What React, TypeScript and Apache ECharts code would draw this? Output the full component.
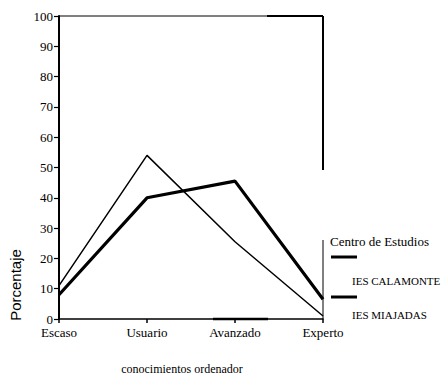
import React, { useEffect, useRef } from "react";
import * as echarts from "echarts";

const categories = ["Escaso", "Usuario", "Avanzado", "Experto"];
const calamonte = [8, 40, 45.5, 6.5];
const miajadas = [11, 54, 25.5, 1];
const yTicks = [0, 10, 20, 30, 40, 50, 60, 70, 80, 90, 100];
const seriesNames = ["IES CALAMONTE", "IES MIAJADAS"];
const legendTitle = "Centro de Estudios";
const xTitle = "conocimientos ordenador";
const yTitle = "Porcentaje";

const SERIF = "Times New Roman, Liberation Serif, serif";
const SANS = "Arial, Liberation Sans, sans-serif";

export default function App() {
  const ref = useRef<HTMLDivElement>(null);
  useEffect(() => {
    if (!ref.current) return;
    const chart = echarts.init(ref.current, null, { renderer: "svg" });
    const L = 59, T = 16, R = 323, B = 319;
    const txt = (text: string, x: number, y: number, size: number, family: string, align = "left", rotation = 0) => ({
      type: "text",
      x,
      y,
      rotation,
      style: {
        text,
        fill: "#000",
        fontSize: size,
        fontFamily: family,
        textAlign: align,
        textVerticalAlign: "middle",
      },
    });
    chart.setOption({
      animation: false,
      backgroundColor: "#ffffff",
      textStyle: { fontFamily: SERIF },
      grid: { left: L, top: T, right: 445 - R, bottom: 376 - B, show: false },
      xAxis: {
        type: "category",
        data: categories,
        boundaryGap: false,
        axisLine: { show: true, lineStyle: { color: "#000", width: 1.5 } },
        axisTick: { show: true, alignWithLabel: true, length: 4, inside: false, lineStyle: { color: "#000", width: 1.5 } },
        axisLabel: { color: "#000", fontFamily: SERIF, fontSize: 13, margin: 7 },
        splitLine: { show: false },
      },
      yAxis: {
        type: "value",
        min: 0,
        max: 100,
        interval: 10,
        axisLine: { show: true, lineStyle: { color: "#000", width: 2 } },
        axisTick: { show: true, length: 5, lineStyle: { color: "#000", width: 1.2 } },
        axisLabel: {
          color: "#000",
          fontFamily: SERIF,
          fontSize: 13,
          margin: 6,
          formatter: (v: number) => (yTicks.includes(v) ? String(v) : ""),
        },
        splitLine: { show: false },
      },
      series: [
        {
          name: seriesNames[0],
          type: "line",
          data: calamonte,
          symbol: "none",
          lineStyle: { color: "#000", width: 3.2 },
        },
        {
          name: seriesNames[1],
          type: "line",
          data: miajadas,
          symbol: "none",
          lineStyle: { color: "#000", width: 1.5 },
        },
      ],
      graphic: [
        { type: "line", shape: { x1: L, y1: T, x2: R, y2: T }, style: { stroke: "#000", lineWidth: 1 } },
        { type: "line", shape: { x1: 267, y1: T, x2: R, y2: T }, style: { stroke: "#000", lineWidth: 2 } },
        { type: "line", shape: { x1: R, y1: T, x2: R, y2: 170 }, style: { stroke: "#000", lineWidth: 2 } },
        { type: "line", shape: { x1: R, y1: 240, x2: R, y2: B }, style: { stroke: "#000", lineWidth: 1 } },
        { type: "line", shape: { x1: 213, y1: B, x2: 268, y2: B }, style: { stroke: "#000", lineWidth: 2.5 } },
        txt(yTitle, 15, 285, 15, SANS, "center", Math.PI / 2),
        txt(xTitle, 182, 369, 12, SERIF, "center"),
        txt(legendTitle, 330, 241, 13, SERIF),
        { type: "line", shape: { x1: 331, y1: 257, x2: 357, y2: 257 }, style: { stroke: "#000", lineWidth: 3 } },
        txt(seriesNames[0], 352, 281, 11, SERIF),
        { type: "line", shape: { x1: 331, y1: 297, x2: 357, y2: 297 }, style: { stroke: "#000", lineWidth: 3 } },
        txt(seriesNames[1], 352, 315, 11, SERIF),
      ],
    });
    return () => chart.dispose();
  }, []);
  return (
    <div
      ref={ref}
      style={{ position: "fixed", left: 0, top: 0, width: 445, height: 376, background: "#fff" }}
    />
  );
}
